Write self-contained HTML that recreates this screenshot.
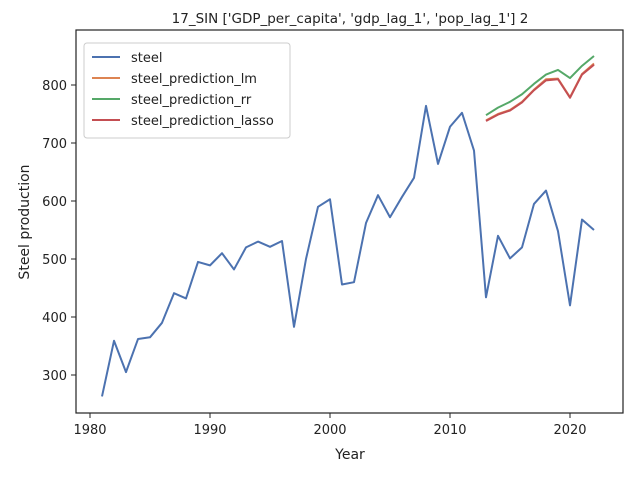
<!DOCTYPE html>
<html><head><meta charset="utf-8"><style>
body{margin:0;background:#fff;}
svg text{font-family:"DejaVu Sans","Liberation Sans",sans-serif;fill:#222;}
</style></head><body>
<svg id="chart" width="640" height="480">
<text x="350" y="23" font-size="13.5" text-anchor="middle">17_SIN ['GDP_per_capita', 'gdp_lag_1', 'pop_lag_1'] 2</text>
<g id="ticks"></g>
<g id="lines"></g>
<rect x="76" y="30" width="547" height="383" fill="none" stroke="#222" stroke-width="1.2"/>
<text x="350" y="459" font-size="14" text-anchor="middle">Year</text>
<text transform="translate(29,222) rotate(-90)" font-size="14" text-anchor="middle">Steel production</text>
<g id="legend">
<rect x="84" y="43" width="206" height="95" rx="3" fill="#fff" stroke="#ccc"/>
</g>
</svg>
<script>
const years=[1981,1982,1983,1984,1985,1986,1987,1988,1989,1990,1991,1992,1993,1994,1995,1996,1997,1998,1999,2000,2001,2002,2003,2004,2005,2006,2007,2008,2009,2010,2011,2012,2013,2014,2015,2016,2017,2018,2019,2020,2021,2022];
const steel=[263,359,305,362,365,390,441,432,495,489,510,482,520,530,521,531,383,500,590,603,456,460,562,610,572,607,640,764,664,728,752,687,434,540,501,520,595,618,548,420,568,550];
const predYears=[2013,2014,2015,2016,2017,2018,2019,2020,2021,2022];
const predLm=[739,750,757,771,792,810,811,779,819,837];
const predRr=[748,761,771,784,802,818,826,812,833,850];
const predLasso=[738,749,756,770,791,808,810,778,818,835];
const xTicks=[1980,1990,2000,2010,2020];
const yTicks=[300,400,500,600,700,800];
const X=v=>90+(v-1980)*12;
const Y=v=>375-(v-300)*0.58;
const NS="http://www.w3.org/2000/svg";
const tk=document.getElementById('ticks'),ln=document.getElementById('lines'),lg=document.getElementById('legend');
function mk(p,t,a){const e=document.createElementNS(NS,t);for(const k in a)e.setAttribute(k,a[k]);p.appendChild(e);return e;}
xTicks.forEach(v=>{const l=mk(tk,'line',{x1:X(v),x2:X(v),y1:413,y2:418,stroke:'#222'});


const t=mk(tk,'text',{x:X(v),y:434,'font-size':13,'text-anchor':'middle'});t.textContent=v;

});
yTicks.forEach(v=>{const l=mk(tk,'line',{x1:71,x2:76,y1:Y(v),y2:Y(v),stroke:'#222'});


const t=mk(tk,'text',{x:67,y:Y(v)+5,'font-size':13,'text-anchor':'end'});t.textContent=v;

});
function line(xs,ys,c,name){const p=mk(ln,'polyline',{points:xs.map((x,i)=>X(x)+','+Y(ys[i])).join(' '),fill:'none',stroke:c,'stroke-width':2,'stroke-linejoin':'round'});

}
line(years,steel,'#4c72b0','steel-line');
line(predYears,predLm,'#dd8452','lm-prediction-line');
line(predYears,predRr,'#55a868','rr-prediction-line');
line(predYears,predLasso,'#c44e52','lasso-prediction-line');
const leg=[['steel','#4c72b0'],['steel_prediction_lm','#dd8452'],['steel_prediction_rr','#55a868'],['steel_prediction_lasso','#c44e52']];
leg.forEach((d,i)=>{const y=57+i*21;const g=mk(lg,'g',{});


mk(g,'line',{x1:92,x2:120,y1:y,y2:y,stroke:d[1],'stroke-width':2});
const t=mk(g,'text',{x:131,y:y+5,'font-size':13});t.textContent=d[0];});
</script>
</body></html>
